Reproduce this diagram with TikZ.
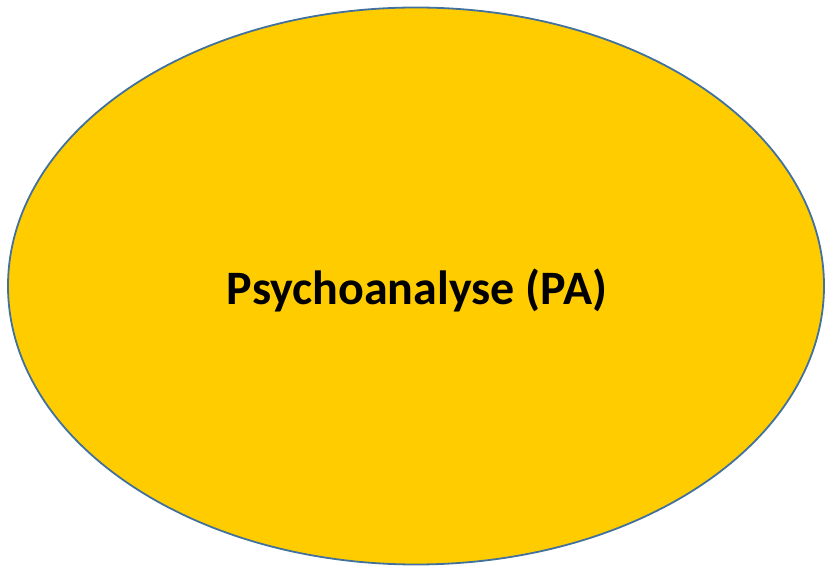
\documentclass[tikz,border=0pt]{standalone}
\usepackage{fontspec}
\setmainfont{Carlito}
\usetikzlibrary{positioning, shapes.geometric}
\definecolor{paYellow}{RGB}{255,204,0}
\definecolor{paBlue}{RGB}{65,113,156}
\tikzset{bubble/.style={ellipse, draw=paBlue, fill=paYellow, line width=1.8pt, inner sep=0pt, minimum width=816pt, minimum height=557pt}}

\begin{document}
\begin{tikzpicture}[x=1pt,y=1pt]
    \useasboundingbox (0,0) rectangle (826,567);
		\node [bubble] (pa) at (416,281) {};
		\node [anchor=base, font=\fontsize{48}{52}\selectfont\bfseries] (title) at (417,262) {Psychoanalyse (PA)};
	\end{tikzpicture}
\end{document}
